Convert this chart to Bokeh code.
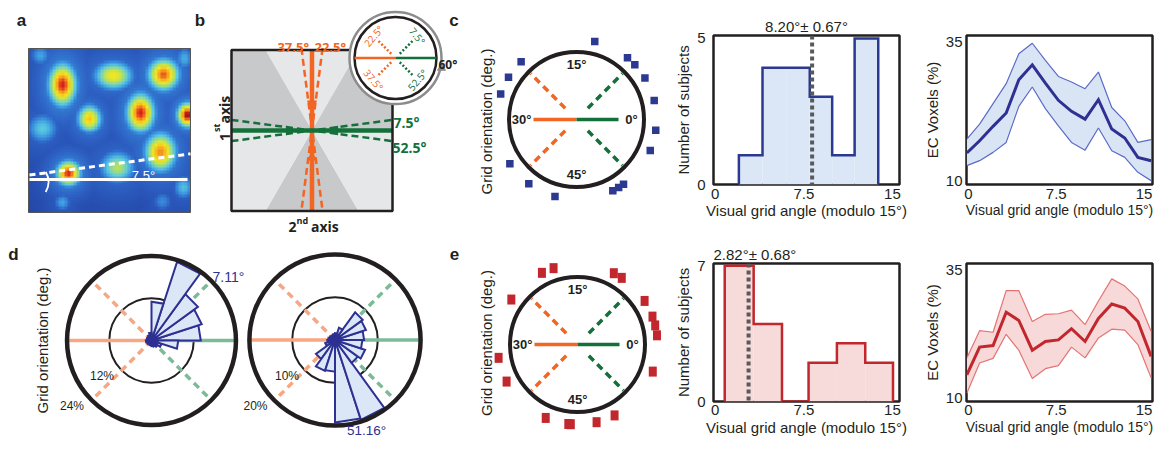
import numpy as np
from bokeh.plotting import figure
from bokeh.layouts import row, column
from bokeh.models import Range1d, FixedTicker, LinearColorMapper, Span
from bokeh.core.properties import value
from bokeh.embed import file_html
from bokeh.resources import INLINE

# ===================== DATA =====================
# panel a: firing fields of the example grid cell (map pixels), peak (normalised), widths
field_x    = [62, 113, 163, 89, 140, 187, 42, 160, 117, 68, 40, 184, 183, 62, 162]
field_y    = [84, 75, 74, 118, 112, 114, 128, 152, 167, 173, 55, 58, 187, 202, 201]
field_peak = [0.95, 0.72, 0.90, 0.78, 0.95, 1.00, 0.45, 0.86, 0.60, 0.95, 0.36, 0.38, 0.42, 0.36, 0.30]
field_sx   = [8, 11, 9, 7, 8, 6, 9, 9, 10, 7, 6, 5, 6, 5, 6]
field_sy   = [12, 8, 9, 8, 11, 7, 9, 11, 9, 7, 6, 7, 7, 5, 6]

# panel b: schematic axis angles (deg)
b_angles = [7.5, 22.5, 37.5, 52.5]
b_labels = ["7.5°", "22.5°", "37.5°", "52.5°"]

# panels c / e: subjects' grid orientation (deg, modulo 60)
orient_c = [12.8, 8.4, 7.2, 5.2, 2.3, 58.7, 56.2, 51.0, 50.3, 49.5, 42.4, 38.9, 35.6, 26.9, 24.7, 22.3]
orient_e = [19.4, 17.9, 10.5, 9.4, 5.5, 3.4, 2.3, 1.1, 56.7, 49.6, 47.3, 44.2, 43.9, 41.1, 34.6, 31.6, 24.3]
circle_labels = ["0°", "15°", "30°", "45°"]

# panel d: rose histograms (% voxels), 20 bins of 18 deg
rose_left  = [14.0, 15.0, 16.3, 23.5, 11.0, 2.2, 1.6, 1.4, 1.2, 1.4, 1.6, 1.4, 1.2, 1.2, 1.4, 1.6, 1.8, 2.2, 3.0, 7.6]
rose_right = [6.8, 7.6, 8.0, 3.0, 1.6, 1.4, 1.2, 1.2, 1.4, 1.6, 1.8, 2.4, 5.5, 7.6, 7.4, 19.3, 19.6, 6.6, 7.4, 6.4]
rose_edges = list(range(0, 361, 18))
rose_left_ticks, rose_right_ticks = [12, 24], [10, 20]
rose_left_mean, rose_right_mean = "7.11°", "51.16°"

# histograms: visual grid angle (modulo 15)
hist_c_edges  = [2.0, 4.0, 6.0, 8.0, 9.9, 11.8, 13.8]
hist_c_counts = [1, 4, 4, 3, 1, 5]
hist_e_edges  = [0.8, 3.25, 5.65, 7.9, 10.3, 12.7, 15.05]
hist_e_counts = [7, 4, 0, 2, 3, 2]
mean_c, sem_c = 8.20, 0.67
mean_e, sem_e = 2.82, 0.68

# EC voxel curves
line_x    = [-0.14, 0.95, 2.1, 3.22, 4.3, 5.45, 6.57, 7.68, 8.8, 9.96, 11.1, 12.24, 13.35, 14.47, 15.6]
line_c_mn = [15.0, 17.2, 19.8, 22.2, 28.2, 30.9, 27.6, 24.5, 22.5, 21.1, 24.6, 19.3, 17.7, 14.2, 13.6]
line_c_hi = [17.5, 20.2, 23.9, 27.5, 32.9, 34.8, 31.7, 28.8, 27.8, 26.6, 29.6, 23.2, 20.8, 16.9, 17.4]
line_c_lo = [12.7, 13.6, 15.1, 16.9, 23.4, 26.9, 23.0, 19.9, 16.9, 15.5, 19.5, 15.4, 14.2, 11.5, 10.0]
line_e_mn = [14.5, 19.9, 20.2, 26.7, 25.1, 19.3, 21.0, 21.3, 23.5, 21.0, 25.5, 28.3, 27.5, 24.9, 18.1]
line_e_hi = [17.8, 23.1, 22.8, 30.9, 30.9, 24.9, 26.3, 26.4, 27.1, 24.3, 28.9, 33.2, 31.8, 29.3, 23.0]
line_e_lo = [10.9, 16.8, 17.7, 22.4, 19.3, 13.8, 15.7, 16.3, 19.9, 17.8, 21.7, 23.4, 23.2, 20.4, 13.9]

# ===================== STYLE =====================
TXT = "#231f20"
ORANGE = "#f26522"
DKGREEN = "#13703a"
NAVY = "#2b3990"
PETAL = "#2e3192"
RED = "#c1272d"
SALMON = "#f9a682"
LTGREEN = "#7cbb98"
BLUEFILL = "#dbe7f6"
REDFILL = "#f7dada"
FONT = "Liberation Sans"
BFONT = "Open Sans"

# ===================== LEFT CANVAS (panels a, b, d, circles of c/e) =====================
L = figure(width=672, height=440, x_range=Range1d(0, 672), y_range=Range1d(-440, 0),
           output_backend="svg", toolbar_location=None, x_axis_location=None, y_axis_location=None,
           min_border=0)
L.grid.visible = False
L.outline_line_color = None


def txt(x, y, s, size, color=TXT, bold=False, align="center", baseline="alphabetic", angle=0.0, font=FONT):
    L.text(x=[x], y=[-y], text=[s], text_font=value(font), text_font_size=f"{size}px",
           text_color=color, text_font_style="bold" if bold else "normal",
           text_align=align, text_baseline=baseline, angle=np.radians(angle))


def seg(x0, y0, x1, y1, color, w, dash="solid", cap="butt"):
    L.line(x=[x0, x1], y=[-y0, -y1], line_color=color, line_width=w, line_dash=dash, line_cap=cap)


def polar(cx, cy, r, deg):
    a = np.radians(deg)
    return cx + r * np.cos(a), cy - r * np.sin(a)


# panel letters
for s, x, y in [("a", 21, 19.5), ("b", 199.5, 19.5), ("c", 453.5, 19.5), ("d", 13, 254), ("e", 454, 253.5)]:
    txt(x, y, s, 17, bold=True)

# ---------- panel a : rate map ----------
stops = [0.0, 0.1, 0.2, 0.32, 0.45, 0.6, 0.72, 0.84, 0.93, 1.0]
cols = ["#1c3a9e", "#2448aa", "#2d62c4", "#3a94e0", "#5ccbe0", "#b8e25a", "#f5e51e", "#f6a01f", "#e5311c", "#8a0a0a"]
rgb = np.array([[int(c[i:i + 2], 16) for i in (1, 3, 5)] for c in cols], float)
tt = np.linspace(0, 1, 256)
pal = ["#%02x%02x%02x" % tuple(int(round(np.interp(t, stops, rgb[:, k]))) for k in range(3)) for t in tt]
mapper = LinearColorMapper(palette=pal, low=0, high=1)

A_X0, A_Y0, A_W, A_H = 28, 48, 162, 164
nx, ny = 54, 55
gx = A_X0 + (np.arange(nx) + 0.5) * A_W / nx
gy = (A_Y0 + A_H) - (np.arange(ny) + 0.5) * A_H / ny
GX, GY = np.meshgrid(gx, gy)
img = np.full((ny, nx), 0.1)
for fx, fy, pk, sx, sy in zip(field_x, field_y, field_peak, field_sx, field_sy):
    d2 = ((GX - fx) / (1.3 * sx)) ** 2 + ((GY - fy) / (1.3 * sy)) ** 2
    core = pk * np.exp(-0.5 * d2)
    halo = 0.1 + 0.22 * pk * np.exp(-0.5 * d2 / 4.0)
    img = np.maximum(img, np.maximum(core, halo))
L.image(image=[img], x=A_X0, y=-(A_Y0 + A_H), dw=A_W, dh=A_H, color_mapper=mapper)
L.rect(x=[A_X0 + A_W / 2], y=[-(A_Y0 + A_H / 2)], width=A_W, height=A_H, fill_color=None,
       line_color="#555555", line_width=1)
a_line_y = 179
a_len = 161
seg(A_X0 + 1, a_line_y, A_X0 + a_len - 2, a_line_y, "white", 3)
dx, dy = a_len, a_len * np.tan(np.radians(b_angles[0]))
seg(A_X0 + 1, a_line_y - 4.5, A_X0 + 1 + dx, a_line_y - 4.5 - dy, "white", 3, "6 4")
L.arc(x=[A_X0 + 1], y=[-181.5], radius=19, start_angle=-0.55, end_angle=0.55, line_color="white", line_width=2)
txt(143, 175, b_labels[0], 13, color="white")

# ---------- panel b : schematic ----------
BX0, BX1, BY0, BY1 = 231, 392, 49.5, 210.5
bcx, bcy = (BX0 + BX1) / 2, (BY0 + BY1) / 2
half = (BY1 - BY0) / 2
off = half * np.tan(np.radians(30))
LIGHT, DARK = "#e6e7e8", "#c8c9cb"
sectors = [
    ([bcx - off, bcx + off, bcx], [BY0, BY0, bcy], LIGHT),
    ([bcx - off, bcx + off, bcx], [BY1, BY1, bcy], DARK),
    ([BX0, bcx - off, bcx, BX0], [BY0, BY0, bcy, bcy], DARK),
    ([BX0, bcx, bcx - off, BX0], [bcy, bcy, BY1, BY1], LIGHT),
    ([bcx + off, BX1, BX1, bcx], [BY0, BY0, bcy, bcy], DARK),
    ([bcx, BX1, BX1, bcx + off], [bcy, bcy, BY1, BY1], LIGHT),
]
L.patches(xs=[s[0] for s in sectors], ys=[[-v for v in s[1]] for s in sectors],
          fill_color=[s[2] for s in sectors], line_color=None)
tb = half * np.tan(np.radians(b_angles[0]))
seg(bcx - tb, BY0 - 2, bcx + tb, BY1, ORANGE, 2.5, "7 4")
seg(bcx + tb, BY0 - 2, bcx - tb, BY1, ORANGE, 2.5, "7 4")
seg(bcx, BY0, bcx, BY1, ORANGE, 4.5)
seg(BX0, bcy - tb, BX1, bcy + tb, DKGREEN, 2.5, "7 4")
seg(BX0, bcy + tb, BX1, bcy - tb, DKGREEN, 2.5, "7 4")
seg(BX0, bcy, BX1, bcy, DKGREEN, 4.5)
L.scatter(x=[bcx, bcx], y=[-(bcy - 27), -(bcy + 27)], marker="triangle", size=9,
          angle=[np.pi, 0], fill_color=ORANGE, line_color=ORANGE)
L.scatter(x=[bcx - 23, bcx + 23], y=[-bcy, -bcy], marker="triangle", size=9,
          angle=[-np.pi / 2, np.pi / 2], fill_color=DKGREEN, line_color=DKGREEN)
L.rect(x=[bcx], y=[-bcy], width=BX1 - BX0, height=BY1 - BY0, fill_color=None, line_color=TXT, line_width=2.5)
txt(308.5, 46.5, b_labels[2], 13, ORANGE, True, align="right", font=BFONT)
txt(314, 46.5, b_labels[1], 13, ORANGE, True, align="left", font=BFONT)
txt(393, 121.5, b_labels[0], 14, DKGREEN, True, align="left", font=BFONT)
txt(392, 146.5, b_labels[3], 14, DKGREEN, True, align="left", font=BFONT)
txt(224, 140.5, "1", 14, bold=True, align="left", angle=90, font=BFONT)
txt(216, 131.5, "st", 9, bold=True, align="left", angle=90, font=BFONT)
txt(224, 123, "axis", 14, bold=True, align="left", angle=90, font=BFONT)
txt(288, 226, "2", 14, bold=True, align="left", font=BFONT)
txt(296, 219.5, "nd", 9, bold=True, align="left", font=BFONT)
txt(310.5, 226, "axis", 14, bold=True, align="left", font=BFONT)
# inset
icx, icy = 395, 57.5
L.circle(x=[icx], y=[-icy], radius=46, fill_color="white", line_color="#8c8c8c", line_width=2.5)
L.circle(x=[icx], y=[-icy], radius=41, fill_color=None, line_color=TXT, line_width=2.5)
seg(icx - 41, icy, icx, icy, ORANGE, 2.5)
seg(icx, icy, icx + 41, icy, DKGREEN, 2.5)
ins_cols = [DKGREEN, ORANGE, ORANGE, DKGREEN]
ins_rot = [-50, 50, -50, 50]
for a, lab, c, rot in zip(b_angles, b_labels, ins_cols, ins_rot):
    x0, y0 = polar(icx, icy, 6, 6 * a)
    x1, y1 = polar(icx, icy, 24, 6 * a)
    seg(x0, y0, x1, y1, c, 2.5, "2 2")
    lx, ly = polar(icx, icy, 31, 6 * a)
    txt(lx, ly, lab, 10, c, False, baseline="middle", angle=rot, font=BFONT)
L.scatter(x=[icx + 46], y=[-(icy + 10)], marker="triangle", size=8, fill_color="#8c8c8c", line_color="#8c8c8c")
txt(438, 63.5, "60°", 12, bold=True, align="left", font=BFONT)


# ---------- circles of c and e ----------
def orient_circle(cx, cy, orient, color, w, h, ylab_y):
    R = 67.5
    L.circle(x=[cx], y=[-cy], radius=R, fill_color=None, line_color=TXT, line_width=4)
    seg(cx - 43, cy, cx, cy, ORANGE, 3.5)
    seg(cx, cy, cx + 42, cy, DKGREEN, 3.5)
    for deg, c in [(45, DKGREEN), (135, ORANGE), (225, ORANGE), (315, DKGREEN)]:
        x0, y0 = polar(cx, cy, 16, deg)
        x1, y1 = polar(cx, cy, 65, deg)
        seg(x0, y0, x1, y1, c, 3.5, "7 5")
    for k, lab in enumerate(circle_labels):
        lx, ly = polar(cx, cy, 55, 90 * k)
        txt(lx, ly, lab, 13, bold=True, baseline="middle")
    ang = np.radians(6 * np.array(orient))
    sx = cx + 80 * np.cos(ang)
    sy = cy - 80 * np.sin(ang)
    L.rect(x=sx, y=-sy, width=w, height=h, fill_color=color, line_color=None)
    txt(486, ylab_y, "Grid orientation (deg.)", 15, angle=90)


orient_circle(576, 119, orient_c, NAVY, 7.5, 7.5, 121)
orient_circle(577, 344, orient_e, RED, 8, 10, 342.5)


# ---------- panel d : rose plots ----------
def rose(cx, cy, pct, scale, ticks, mean_lab, mean_pos, tick_pos):
    R = ticks[1] * scale
    L.circle(x=[cx], y=[-cy], radius=ticks[0] * scale, fill_color=None, line_color=TXT, line_width=2)
    seg(cx - R, cy, cx, cy, SALMON, 3.5)
    seg(cx, cy, cx + R, cy, LTGREEN, 3.5)
    for deg, c in [(45, LTGREEN), (135, SALMON), (225, SALMON), (315, LTGREEN)]:
        x1, y1 = polar(cx, cy, R, deg)
        seg(cx, cy, x1, y1, c, 3.5, "7 5")
    xs, ys = [], []
    for i, v in enumerate(pct):
        r = v * scale
        x0, y0 = polar(cx, cy, r, rose_edges[i])
        x1, y1 = polar(cx, cy, r, rose_edges[i + 1])
        xs.append([cx, x0, x1])
        ys.append([-cy, -y0, -y1])
    L.patches(xs=xs, ys=ys, fill_color=BLUEFILL, line_color=PETAL, line_width=2, line_join="miter")
    L.circle(x=[cx], y=[-cy], radius=R, fill_color=None, line_color=TXT, line_width=4.5)
    for t, (tx, ty) in zip(ticks, tick_pos):
        txt(tx, ty, f"{t}%", 12)
    txt(mean_pos[0], mean_pos[1], mean_lab, mean_pos[3], PETAL, align=mean_pos[2])


rose(151, 340, rose_left, 3.52, rose_left_ticks, rose_left_mean, (212, 276.5, "left", 14),
     [(101.5, 375), (71.5, 405)])
rose(334.5, 339.5, rose_right, 4.28, rose_right_ticks, rose_right_mean, (366, 430, "center", 13.5),
     [(286.5, 375.5), (255, 405.5)])
txt(42, 340, "Grid orientation (deg.)", 15, angle=90)


# ===================== HISTOGRAMS =====================
def style_axes(p, ylabel, yticks, s1x, s2x, s1y, s2y, xlab_size):
    p.xaxis.ticker = FixedTicker(ticks=[0, 7.5, 15])
    p.yaxis.ticker = FixedTicker(ticks=yticks)
    p.xaxis.axis_label = "Visual grid angle (modulo 15°)"
    p.yaxis.axis_label = ylabel
    for ax in p.axis:
        ax.axis_line_color = None
        ax.major_tick_in = 0
        ax.major_tick_out = 0
        ax.minor_tick_line_color = None
        ax.major_label_text_font = FONT
        ax.major_label_text_font_size = "15px"
        ax.major_label_text_color = TXT
        ax.axis_label_text_font = FONT
        ax.axis_label_text_font_size = "15px"
        ax.axis_label_text_font_style = "normal"
        ax.axis_label_text_color = TXT
    p.xaxis.axis_label_text_font_size = xlab_size
    p.xaxis.major_label_standoff = s1x
    p.xaxis.axis_label_standoff = s2x
    p.yaxis.major_label_standoff = s1y
    p.yaxis.axis_label_standoff = s2y
    p.xgrid.visible = False
    p.ygrid.visible = False
    p.outline_line_color = TXT
    p.outline_line_width = 2.5


def make_hist(h, btop, bbot, edges, counts, ymax, mean, sem, fill, edge, t_align, t_off, s1x, s2x):
    p = figure(width=248, height=h, x_range=Range1d(-0.15, 15.6), y_range=Range1d(0, ymax),
               output_backend="svg", toolbar_location=None,
               min_border_left=37, min_border_right=21, min_border_top=btop, min_border_bottom=bbot)
    p.quad(left=edges[:-1], right=edges[1:], bottom=0, top=counts, fill_color=fill, line_color=None)
    sx, sy = [edges[0]], [0]
    for i, c in enumerate(counts):
        sx += [edges[i], edges[i + 1]]
        sy += [c, c]
    sx.append(edges[-1])
    sy.append(0)
    p.line(sx, sy, line_color=edge, line_width=2.5, line_join="miter")
    p.add_layout(Span(location=mean, dimension="height", line_color="#58595b", line_width=4, line_dash="4 3"))
    p.title.text = f"{mean:.2f}°± {sem:.2f}°"
    p.title.align = t_align
    p.title.offset = t_off
    p.title.standoff = 2
    p.title.text_font = FONT
    p.title.text_font_size = "15px"
    p.title.text_font_style = "normal"
    p.title.text_color = TXT
    style_axes(p, "Number of subjects", [0, int(max(counts))], s1x, s2x, 8, 2, "15px")
    return p


hc = make_hist(228, 35, 44, hist_c_edges, hist_c_counts, 5.1, mean_c, sem_c, BLUEFILL, NAVY, "center", 8, 4, 0)
he = make_hist(212, 35, 39, hist_e_edges, hist_e_counts, 7.12, mean_e, sem_e, REDFILL, RED, "left", 0, 3, 1)


# ===================== EC VOXEL CURVES =====================
def make_line(h, btop, bbot, mn, hi, lo, fill, edge, main, s1x, s2x):
    p = figure(width=235, height=h, x_range=Range1d(-0.17, 15.72), y_range=Range1d(9.3, 36.2),
               output_backend="svg", toolbar_location=None,
               min_border_left=43, min_border_right=3, min_border_top=btop, min_border_bottom=bbot)
    p.varea(x=line_x, y1=lo, y2=hi, fill_color=fill)
    p.line(line_x, hi, line_color=edge, line_width=1.2)
    p.line(line_x, lo, line_color=edge, line_width=1.2)
    p.line(line_x, mn, line_color=main, line_width=3, line_join="miter")
    style_axes(p, "EC Voxels (%)", [10, 35], s1x, s2x, 4, 2, "14px")
    return p


lc = make_line(228, 35, 44, line_c_mn, line_c_hi, line_c_lo, "#d9e5f5", "#5a6cc8", "#2e3192", 4, 0)
le = make_line(212, 35, 39, line_e_mn, line_e_hi, line_e_lo, "#f7d9d9", "#e57373", RED, 3, 1)

layout = row(L, column(hc, he), column(lc, le))
open("out.html", "w").write(file_html(layout, INLINE))
